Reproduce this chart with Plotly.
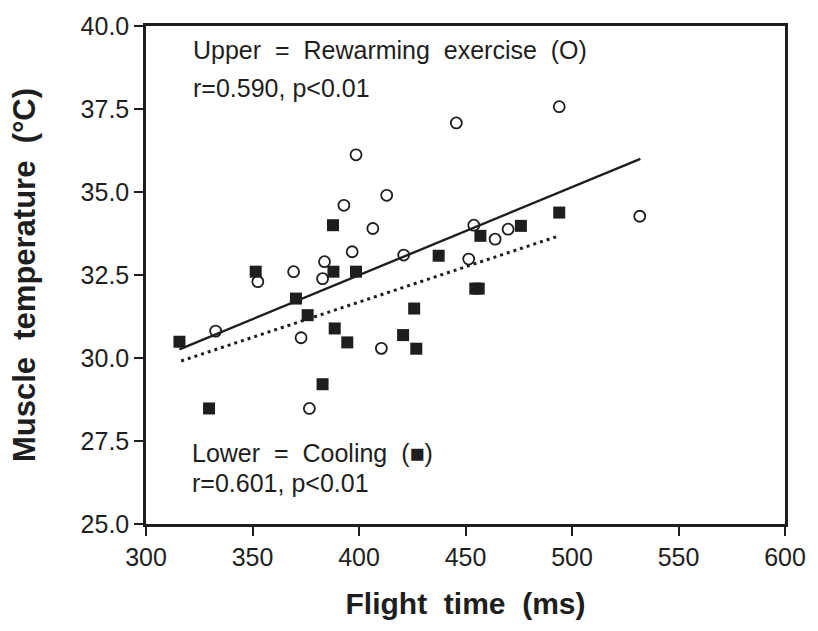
import plotly.graph_objects as go

# Rewarming exercise (open circles)
rewarm_flight = [332.7, 352.5, 369.3, 372.8, 376.7, 382.9, 383.8, 392.9, 396.8, 398.6,
                 406.5, 410.5, 413.0, 421.0, 445.7, 451.5, 453.9, 463.9, 470.0, 494.0, 531.8]
rewarm_temp = [30.81, 32.30, 32.60, 30.61, 28.48, 32.39, 32.90, 34.60, 33.20, 36.12,
               33.90, 30.29, 34.90, 33.10, 37.08, 32.98, 34.00, 33.58, 33.88, 37.57, 34.27]

# Cooling (filled squares)
cool_flight = [315.7, 329.6, 351.5, 370.4, 375.9, 382.9, 387.8, 388.0, 388.6, 394.5,
               398.6, 420.7, 425.9, 426.9, 437.4, 454.6, 456.2, 457.0, 476.0, 494.0]
cool_temp = [30.49, 28.48, 32.60, 31.79, 31.29, 29.21, 34.00, 32.60, 30.89, 30.47,
             32.60, 30.69, 31.49, 30.28, 33.08, 32.09, 32.09, 33.68, 33.98, 34.38]

# Regression lines (end points)
rewarm_fit_x = [315.7, 532.1]
rewarm_fit_y = [30.26, 36.00]
cool_fit_x = [316.5, 494.0]
cool_fit_y = [29.91, 33.68]

x_ticks = [300, 350, 400, 450, 500, 550, 600]
y_ticks = [25.0, 27.5, 30.0, 32.5, 35.0, 37.5, 40.0]

ink = "#1e1e1e"
font_family = "Liberation Sans, Arial, sans-serif"
nb = "\u00a0"

fig = go.Figure()

fig.add_trace(go.Scatter(
    x=rewarm_fit_x, y=rewarm_fit_y, mode="lines",
    line=dict(color=ink, width=2.4), showlegend=False, hoverinfo="skip"))
fig.add_trace(go.Scatter(
    x=cool_fit_x, y=cool_fit_y, mode="lines",
    line=dict(color=ink, width=3, dash="3px,4px"), showlegend=False, hoverinfo="skip"))

fig.add_trace(go.Scatter(
    x=cool_flight, y=cool_temp, mode="markers", name="Cooling",
    marker=dict(symbol="square", size=12, color=ink, line=dict(width=0)),
    showlegend=False))
fig.add_trace(go.Scatter(
    x=rewarm_flight, y=rewarm_temp, mode="markers", name="Rewarming exercise",
    marker=dict(symbol="circle-open", size=11, color=ink, line=dict(width=1.8)),
    showlegend=False))

def label(x, y, text):
    fig.add_annotation(x=x, y=y, xref="x", yref="y", text=text, showarrow=False,
                       xanchor="left", yanchor="middle",
                       font=dict(family=font_family, size=25, color=ink))

gap = nb * 2
label(321.3, 39.28, f"Upper{gap}={gap}Rewarming{gap}exercise{gap}(O)")
label(321.3, 38.14, "r=0.590, p<0.01")
label(320.5, 27.13, f"Lower{gap}={gap}Cooling{gap}(■)")
label(320.5, 26.23, "r=0.601, p<0.01")

axis_common = dict(
    showline=True, linewidth=2.5, linecolor=ink, mirror=True,
    ticks="outside", ticklen=9, tickwidth=1.5, tickcolor=ink,
    showgrid=False, zeroline=False,
    tickfont=dict(family=font_family, size=25, color=ink),
)

fig.update_xaxes(
    range=[300, 600], tickvals=x_ticks, ticktext=[str(v) for v in x_ticks],
    title=dict(text=f"Flight{gap}time{gap}(ms)",
               font=dict(family=font_family, size=30, color=ink, weight="bold"),
               standoff=24),
    **axis_common)
fig.update_yaxes(
    range=[25, 40], tickvals=y_ticks, ticktext=[f"{v:.1f}" for v in y_ticks],
    title=dict(text=f"Muscle{gap}temperature{gap}(°C)",
               font=dict(family=font_family, size=31, color=ink, weight="bold"),
               standoff=36),
    **axis_common)

fig.update_layout(
    width=818, height=631,
    margin=dict(l=146, r=24, t=23, b=107),
    paper_bgcolor="white", plot_bgcolor="white",
)

fig.write_html("out.html")
